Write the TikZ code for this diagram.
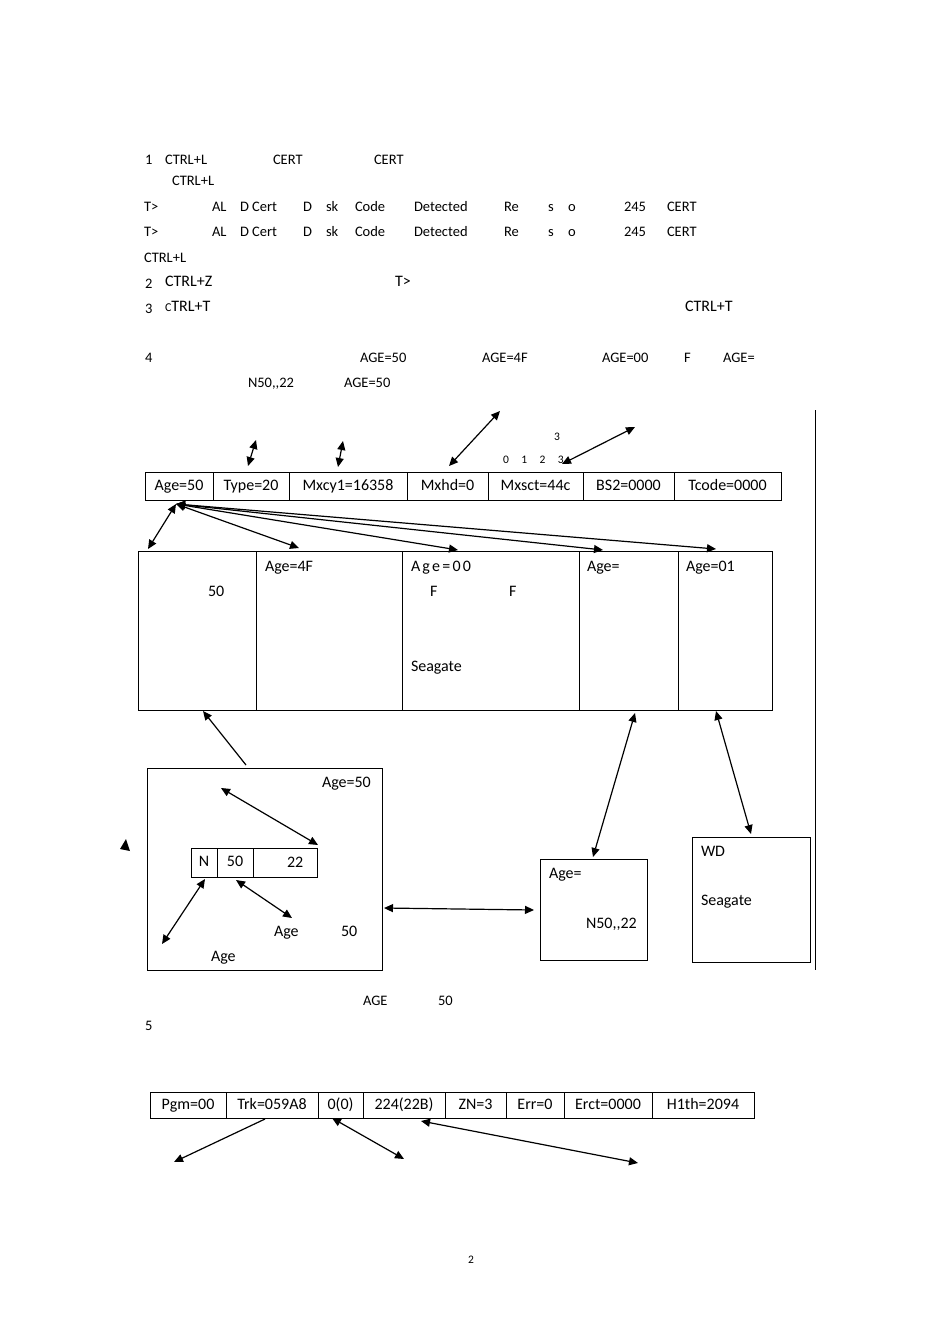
\documentclass[tikz,border=0pt]{standalone}
\usepackage{fontspec}
\setmainfont{Carlito}
\usetikzlibrary{arrows.meta,positioning}

\begin{document}
\begin{tikzpicture}[x=1pt, y=-1pt,
    every node/.style={inner sep=0pt, outer sep=0pt},
    txt/.style={anchor=base west, font=\fontsize{14.5}{17}\selectfont},
    bigtxt/.style={anchor=base west, font=\fontsize{16}{19}\selectfont},
    smalltxt/.style={anchor=base west, font=\fontsize{11.5}{14}\selectfont},
    cell/.style={draw, line width=0.8pt, minimum height=28pt, text height=11.5pt, text depth=3.5pt, font=\fontsize{16}{19}\selectfont},
    panel/.style={draw, line width=0.8pt, anchor=north west},
    link/.style={line width=1.2pt, {Triangle[length=9pt,width=8pt]}-{Triangle[length=9pt,width=8pt]}},
    tolink/.style={line width=1.2pt, -{Triangle[length=9pt,width=8pt]}}]

    \useasboundingbox (0,0) rectangle (950,1344);

    % steps 1 to 4
    \node[txt] (s1) at (145,164) {1};
    \node[txt] (s1a) at (165,164) {CTRL+L};
    \node[txt] (s1b) at (273,164) {CERT};
    \node[txt] (s1c) at (374,164) {CERT};
    \node[txt] (s1d) at (172,185) {CTRL+L};
    \foreach \y/\k in {211/a, 236/b} {
        \node[txt] (t\k1) at (144,\y) {T>};
        \node[txt] (t\k2) at (212,\y) {AL};
        \node[txt] (t\k3) at (240,\y) {D Cert};
        \node[txt] (t\k4) at (303,\y) {D};
        \node[txt] (t\k5) at (326,\y) {sk};
        \node[txt] (t\k6) at (355,\y) {Code};
        \node[txt] (t\k7) at (414,\y) {Detected};
        \node[txt] (t\k8) at (504,\y) {Re};
        \node[txt] (t\k9) at (548,\y) {s};
        \node[txt] (t\k10) at (568,\y) {o};
        \node[txt] (t\k11) at (624,\y) {245};
        \node[txt] (t\k12) at (667,\y) {CERT};
    }
    \node[txt] (s1e) at (144,262) {CTRL+L};
    \node[txt] (s2) at (145,288) {2};
    \node[bigtxt] (s2a) at (165,286) {CTRL+Z};
    \node[bigtxt] (s2b) at (395,286) {T>};
    \node[txt] (s3) at (145,313) {3};
    \node[bigtxt] (s3a) at (165,311) {{\fontsize{12}{14}\selectfont C}TRL+T};
    \node[bigtxt] (s3b) at (685,311) {CTRL+T};
    \node[txt] (s4) at (145,362) {4};
    \node[txt] (s4a) at (360,362) {AGE=50};
    \node[txt] (s4b) at (482,362) {AGE=4F};
    \node[txt] (s4c) at (602,362) {AGE=00};
    \node[txt] (s4d) at (684,362) {F};
    \node[txt] (s4e) at (723,362) {AGE=};
    \node[txt] (s4f) at (248,387) {N50,{},22};
    \node[txt] (s4g) at (344,387) {AGE=50};

    % header cells
    \node[cell, minimum width=68pt, anchor=west] (a1) at (145,486) {Age=50};
    \node[cell, minimum width=76pt, right=0pt of a1] (a2) {Type=20};
    \node[cell, minimum width=118pt, right=0pt of a2] (a3) {Mxcy1=16358};
    \node[cell, minimum width=81pt, right=0pt of a3] (a4) {Mxhd=0};
    \node[cell, minimum width=95pt, right=0pt of a4] (a5) {Mxsct=44c};
    \node[cell, minimum width=91pt, right=0pt of a5] (a6) {BS2=0000};
    \node[cell, minimum width=107pt, right=0pt of a6] (a7) {Tcode=0000};
    \node[smalltxt] (k3) at (554,440) {3};
    \node[smalltxt] (k0) at (503,463) {0\hspace{12.5pt}1\hspace{12.5pt}2\hspace{12.5pt}3};

    \coordinate (typelo) at (248,466);
    \coordinate (typehi) at (256,440);
    \coordinate (cyllo) at (338,467);
    \coordinate (cylhi) at (343,441);
    \coordinate (hdlo) at (449,466);
    \coordinate (hdhi) at (500,411);
    \coordinate (sctlo) at (562,464);
    \coordinate (scthi) at (635,427);
    \draw[link] (typelo) -- (typehi);
    \draw[link] (cyllo) -- (cylhi);
    \draw[link] (hdlo) -- (hdhi);
    \draw[link] (sctlo) -- (scthi);

    % zone panels
    \node[panel, minimum width=118pt, minimum height=159pt] (m1) at (138,551) {};
    \node[panel, minimum width=146pt, minimum height=159pt, right=0pt of m1] (m2) {};
    \node[panel, minimum width=177pt, minimum height=159pt, right=0pt of m2] (m3) {};
    \node[panel, minimum width=99pt, minimum height=159pt, right=0pt of m3] (m4) {};
    \node[panel, minimum width=94pt, minimum height=159pt, right=0pt of m4] (m5) {};
    \node[bigtxt] (m1a) at (208,596) {50};
    \node[bigtxt] (m2a) at (265,571) {Age=4F};
    \node[bigtxt] (m3a) at (411,571) {A\kern2.2pt g\kern2.2pt e\kern2.2pt =\kern2.2pt 0\kern2.2pt 0};
    \node[bigtxt] (m3b) at (430,596) {F};
    \node[bigtxt] (m3c) at (509,596) {F};
    \node[bigtxt] (m3d) at (411,671) {Seagate};
    \node[bigtxt] (m4a) at (587,571) {Age=};
    \node[bigtxt] (m5a) at (686,571) {Age=01};

    \coordinate (agefoot) at (176,504);
    \coordinate (h1) at (148,549);
    \coordinate (h2) at (299,548);
    \coordinate (h3) at (458,550);
    \coordinate (h4) at (603,550);
    \coordinate (h5) at (716,549);
    \draw[link] (agefoot) -- (h1);
    \draw[link] (agefoot) -- (h2);
    \draw[link] (agefoot) -- (h3);
    \draw[link] (agefoot) -- (h4);
    \draw[link] (agefoot) -- (h5);

    \coordinate (rtop) at (815,410);
    \coordinate (rbot) at (815,970);
    \draw[line width=0.7pt] (rtop) -- (rbot);

    % lower boxes
    \node[panel, minimum width=235pt, minimum height=202pt] (lbox) at (147,768) {};
    \node[bigtxt] (la) at (322,787) {Age=50};
    \node[cell, minimum width=26pt, minimum height=29pt, anchor=north west] (c1) at (191,848) {N};
    \node[cell, minimum width=36pt, minimum height=29pt, right=0pt of c1] (c2) {50};
    \node[cell, minimum width=64pt, minimum height=29pt, right=0pt of c2] (c3) {};
    \node[bigtxt] (c3a) at (287,867) {22};
    \node[bigtxt] (lb) at (274,936) {Age};
    \node[bigtxt] (lc) at (341,936) {50};
    \node[bigtxt] (ld) at (211,961) {Age};

    \node[panel, minimum width=107pt, minimum height=101pt] (qbox) at (540,859) {};
    \node[bigtxt] (qa) at (549,878) {Age=};
    \node[bigtxt] (qb) at (586,928) {N50,{},22};
    \node[panel, minimum width=118pt, minimum height=125pt] (wbox) at (692,837) {};
    \node[bigtxt] (wa) at (701,856) {WD};
    \node[bigtxt] (wb) at (701,905) {Seagate};

    \coordinate (lup) at (246,765);
    \coordinate (m1foot) at (203,711);
    \coordinate (qtop) at (593,857);
    \coordinate (m4foot) at (635,713);
    \coordinate (wtop) at (751,834);
    \coordinate (m5foot) at (716,711);
    \coordinate (inhi) at (221,788);
    \coordinate (inc3) at (318,845);
    \coordinate (inlo) at (162,944);
    \coordinate (inc1) at (205,879);
    \coordinate (inc2) at (236,880);
    \coordinate (inage) at (292,918);
    \coordinate (lright) at (384,908);
    \coordinate (qleft) at (534,910);
    \draw[tolink] (lup) -- (m1foot);
    \draw[link] (qtop) -- (m4foot);
    \draw[link] (wtop) -- (m5foot);
    \draw[link] (inhi) -- (inc3);
    \draw[link] (inlo) -- (inc1);
    \draw[link] (inc2) -- (inage);
    \draw[link] (lright) -- (qleft);
    \fill (120,849) -- (126,839) -- (130,851) -- cycle;

    % step 5
    \node[txt] (s5a) at (363,1005) {AGE};
    \node[txt] (s5b) at (438,1005) {50};
    \node[txt] (s5) at (145,1030) {5};
    \node[cell, minimum width=76pt, minimum height=26pt, anchor=west] (b1) at (150,1105) {Pgm=00};
    \node[cell, minimum width=92pt, minimum height=26pt, right=0pt of b1] (b2) {Trk=059A8};
    \node[cell, minimum width=45pt, minimum height=26pt, right=0pt of b2] (b3) {0(0)};
    \node[cell, minimum width=82pt, minimum height=26pt, right=0pt of b3] (b4) {224(22B)};
    \node[cell, minimum width=61pt, minimum height=26pt, right=0pt of b4] (b5) {ZN=3};
    \node[cell, minimum width=58pt, minimum height=26pt, right=0pt of b5] (b6) {Err=0};
    \node[cell, minimum width=88pt, minimum height=26pt, right=0pt of b6] (b7) {Erct=0000};
    \node[cell, minimum width=102pt, minimum height=26pt, right=0pt of b7] (b8) {H1th=2094};

    \coordinate (trkfoot) at (265,1119);
    \coordinate (trkend) at (174,1162);
    \coordinate (hdfoot) at (332,1118);
    \coordinate (hdend) at (404,1159);
    \coordinate (secfoot) at (421,1121);
    \coordinate (secend) at (638,1163);
    \draw[tolink] (trkfoot) -- (trkend);
    \draw[link] (hdfoot) -- (hdend);
    \draw[link] (secfoot) -- (secend);

    \node[smalltxt] (pg) at (468,1263) {2};
\end{tikzpicture}
\end{document}
